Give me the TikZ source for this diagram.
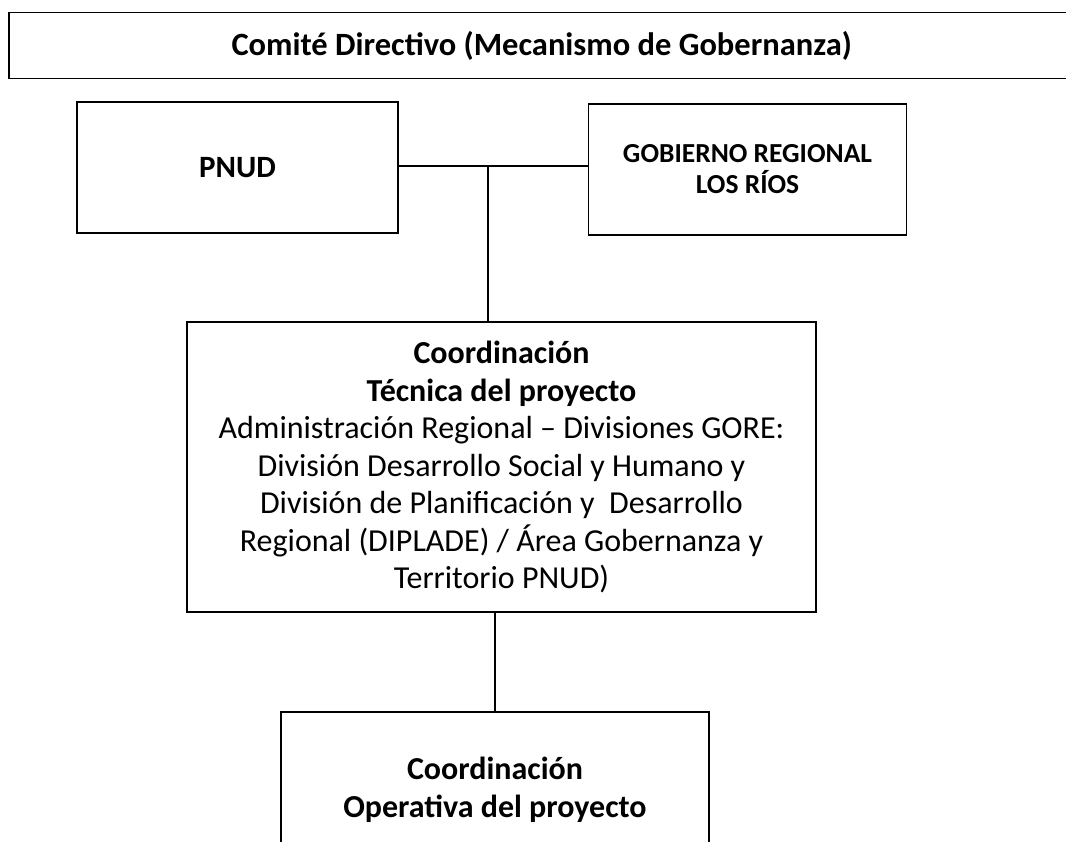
\documentclass[tikz,border=0pt]{standalone}
\usepackage{fontspec}
\setmainfont{Carlito}
\usetikzlibrary{positioning,calc}

\begin{document}
\begin{tikzpicture}[x=1pt, y=-1pt, node distance=1cm]

\tikzstyle{box} = [rectangle, draw=black, line width=1.5pt, text centered, align=center, font=\fontsize{32}{37.5}\selectfont]
\tikzstyle{conn} = [line width=1.3pt]

\useasboundingbox (0,0) rectangle (1066,842);

\node (comite) [box, minimum width=1066pt, minimum height=66pt, anchor=north west, font=\fontsize{32.5}{38}\selectfont\bfseries] at (8,12) {Comité Directivo (Mecanismo de Gobernanza)};
\node (pnud) [box, minimum width=321pt, minimum height=131pt, font=\fontsize{31}{37}\selectfont\bfseries] at (237.5,167.5) {PNUD};
\node (gob) [box, right=189pt of pnud, yshift=-2pt, minimum width=318pt, minimum height=131pt, font=\fontsize{27.5}{31}\selectfont\bfseries] {GOBIERNO REGIONAL\\ LOS RÍOS};
\node (tec) [box, minimum width=629pt, minimum height=290pt] at (501.5,467) {\textbf{Coordinación}\\ \textbf{Técnica del proyecto}\\ Administración Regional – Divisiones GORE:\\ División Desarrollo Social y Humano y\\ División de Planificación y~ Desarrollo\\ Regional (DIPLADE) / Área Gobernanza y\\ Territorio PNUD)};
\node (opc) [box, minimum width=428pt, minimum height=156pt, font=\fontsize{32}{37.5}\selectfont\bfseries] at (495,790) {Coordinación\\ Operativa del proyecto};

\coordinate (j) at (488,166);
\draw [conn] (pnud.east |- j) -- (j -| gob.west);
\draw [conn] (j) -- (j |- tec.north);
\draw [conn] (tec.south -| opc.north) -- (opc.north);
\end{tikzpicture}
\end{document}
